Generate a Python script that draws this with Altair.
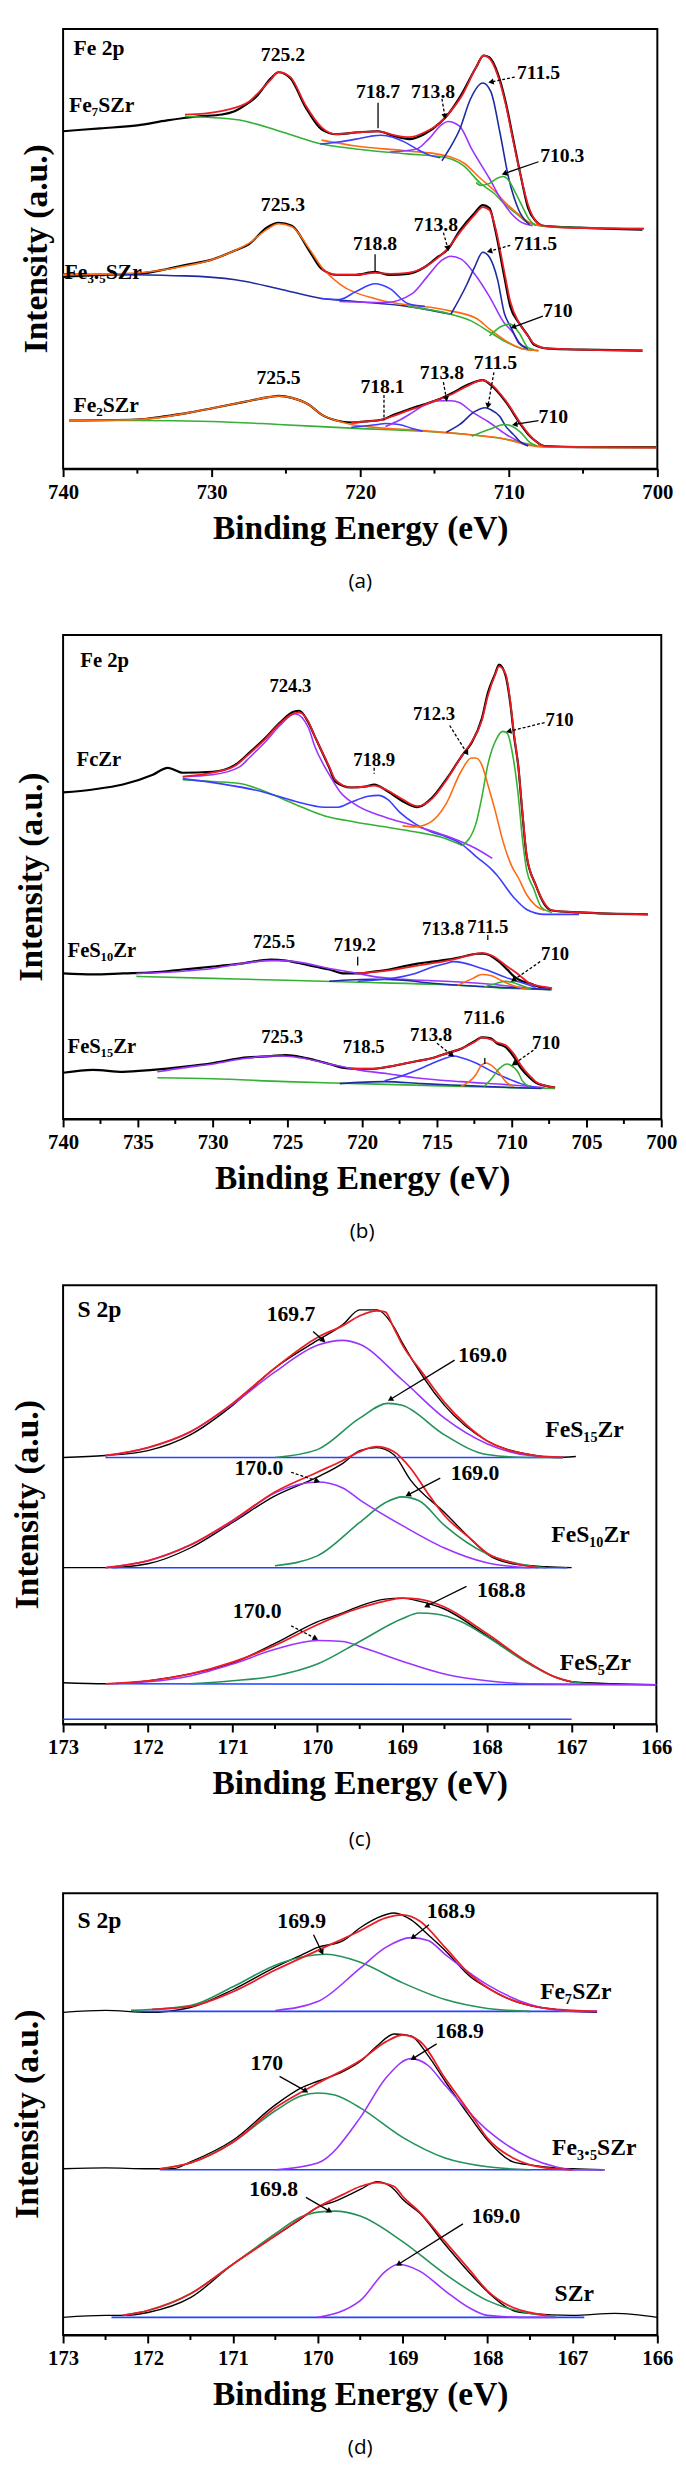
import math
import altair as alt
import pandas as pd

SERIF = "Liberation Serif, DejaVu Serif, serif"
CAPFONT = "Open Sans, Liberation Sans, sans-serif"

RED = "#ec1c24"; BLK = "#000000"; GRN = "#34b134"; DGRN = "#23925a"; ORG = "#ff6a10"
BLU = "#3c3cff"; NAVY = "#1d2aa0"; PUR = "#9b33ff"; SBLU = "#2244ff"

# ---------------- panel (a): Fe 2p ----------------
A_FE7_RAW = [(740,343),(737.5,346),(735,349),(733,354),(731,358),(729.3,360),(728.5,363),(727.5,372),(727,378),(726,397),(725.5,403),(724.7,397),(723.7,368),(722.6,345),(721.6,340),(720.1,342),(718.8,343),(717.7,338),(716.7,335),(715.7,340),(714.6,352),(714.1,360),(713.2,380),(712.2,408),(711.7,420),(711.3,418),(710.75,402),(710.2,372),(709.7,335),(709.2,298),(708.7,265),(708.2,252),(707.7,247),(705.2,245),(701,243)]
A_FE7_FIT = [(731.8,360),(730.5,361),(729.2,364),(727.5,373),(727,380),(726.05,395),(725.5,403),(724.7,398),(723.7,370),(722.6,347),(721.6,340),(720.1,342),(718.8,343),(717.7,339),(716.7,337),(715.65,342),(714.6,352),(714.1,360),(713.2,378),(712.2,408),(711.7,420),(711.3,417),(710.75,400),(710.2,370),(709.7,333),(709.2,298),(708.7,268),(708.2,252),(707.7,247),(706.4,245),(700.9,244)]
A_FE7_BG = [(731.8,358),(728.4,355),(725.2,342),(722.6,330),(720.3,325),(716.8,320),(714.5,317),(713.05,308),(711.9,290),(711.0,280),(710.2,268),(709.3,257),(708.7,250),(707.3,246),(700.9,244)]
A_FE7_ORG = [(722.6,334),(720.3,328),(716.8,323),(714.5,319),(713.05,311),(711.9,295),(711.0,283),(710.2,270),(709.3,258),(708.7,251),(707.8,247)]
A_FE7_P718 = [(722.7,330),(721.5,332),(720.3,335),(719.3,338),(718.6,339),(717.8,337),(717,332),(716.2,325),(715.4,319),(714.6,316)]
A_FE7_P713 = [(718.0,322),(716.2,325),(715.4,335),(714.5,350),(714.1,353),(713.3,348),(712.5,325),(711.3,295),(710.45,272),(709.3,252),(708.4,247)]
A_FE7_P711 = [(714.5,313),(714.0,325),(713.3,345),(712.6,375),(711.75,392),(711.2,383),(710.6,342),(710.0,295),(709.3,262),(708.6,248)]
A_FE7_P710 = [(712.2,291),(711.9,288),(711.3,290),(710.8,295),(710.4,297),(710.0,293),(709.6,282),(709.1,267),(708.7,255),(708.2,247)]

A_FE35_RAW = [(740,195),(737.5,197),(735,198),(733,203),(731.8,207),(730.1,212),(728.4,222),(727.5,228),(726.3,245),(725.5,250),(724.6,247),(723.45,222),(722.6,203),(721.6,197),(720.3,197),(719,200),(718,197),(716.8,198),(715.65,205),(714.8,215),(714.1,223),(713.3,242),(712.3,260),(711.75,268),(711.3,265),(710.9,242),(710.3,195),(709.9,165),(709.3,148),(708.7,135),(708.3,126),(707.3,122),(705,121),(701,120)]
A_FE35_FIT = [(722.6,203),(721.6,197),(720.3,197),(719,199),(718,198),(716.8,199),(715.65,205),(714.8,214),(714.1,224),(713.3,240),(712.3,258),(711.75,266),(711.3,263),(710.9,245),(710.3,200),(709.9,170),(709.3,148),(708.7,135),(708.3,127),(707.3,122),(701,120)]
A_FE35_ORG = [(740,197),(735,199),(731.8,206),(730.1,212),(728.4,222),(727.5,229),(726.3,243),(725.5,249),(724.6,246),(723.45,224),(722.6,205),(721.4,188),(718.8,172),(714.5,162),(712.2,153),(711.3,142),(710.2,130),(709.1,122),(708,120)]
A_FE35_BG1 = [(740,198),(731.8,196),(728.4,192),(725.5,183),(722.6,173),(720.3,170),(716.8,165),(713.9,157)]
A_FE35_BG2 = [(716.8,165),(713.9,157),(712.5,150),(711.3,139),(710.2,129),(709.1,122),(708,120)]
A_FE35_P718 = [(722.6,173),(721.4,172),(720.3,180),(719.0,188),(718.0,183),(716.8,168),(715.65,165)]
A_FE35_P713 = [(721.4,170),(718.3,169),(716.5,178),(715.5,195),(714.5,212),(713.9,216),(713.2,213),(712.3,198),(711.3,175),(710.3,148),(709.7,138),(709.3,127),(708.7,122)]
A_FE35_P711 = [(713.9,157),(712.8,188),(712.3,205),(711.75,220),(711.3,215),(710.75,192),(710.3,158),(709.9,145),(709.3,128),(708.7,122)]
A_FE35_P710 = [(711.3,135),(710.45,145),(709.9,147),(709.3,138),(708.7,123),(708.3,121)]

A_FE2_RAW = [(739.6,49),(735,50),(733.3,53),(731.5,57),(729.8,62),(727.8,68),(726.05,73),(725.5,74),(724.6,72),(723.45,65),(722.6,55),(721.6,49),(720.6,47),(719.7,48),(718.5,50),(717.7,55),(716.8,60),(715.8,65),(714.8,70),(713.8,77),(712.8,85),(711.75,90),(711.2,85),(710.2,68),(709.2,45),(708.7,35),(708.1,27),(707.6,23),(705.3,22),(700.05,22)]
A_FE2_FIT = [(720.6,47),(719.7,48),(718.5,50),(717.7,54),(716.8,59),(715.8,64),(714.8,70),(713.8,76),(712.8,84),(711.75,90),(711.2,86),(710.2,69),(709.2,46),(708.7,36),(708.1,27),(707.6,23),(705.3,22),(700.05,21.5)]
A_FE2_BG = [(739.6,49),(735,49),(730,48),(725.5,45),(720.3,41),(715.65,38),(712.8,35),(710.2,30),(708.7,25),(707.3,22),(700.05,21.5)]
A_FE2_ORG = [(739.6,49),(735,50),(731.5,57),(729.8,62),(727.8,68),(726.05,73),(725.5,74),(724.6,72),(723.45,65),(722.6,55),(721.6,49),(720.6,45),(719,42),(716,39),(713,35),(710.2,30),(708.7,24),(707.6,22),(700.05,21.5)]
A_FE2_P718 = [(720.6,42),(718.8,45),(718.3,46),(717.4,45),(716.5,41),(715.8,38)]
A_FE2_P713 = [(718.3,43),(717.4,49),(716.5,57),(715.65,65),(714.5,69),(713.9,69),(713.3,67),(712.5,58),(711.3,47),(710.2,35),(709.2,27),(708.7,24)]
A_FE2_P711 = [(714.2,37),(713.3,45),(712.3,58),(711.6,62),(711.2,60),(710.6,53),(710.2,43),(709.7,35),(709.2,27),(708.7,23)]
A_FE2_P710 = [(712.5,33),(711.3,40),(710.3,45),(709.9,44),(709.2,37),(708.6,27),(708.1,23)]

A_TEXT_PEAK = [("725.2",725.2,420),("718.7",718.8,383),("713.8",715.1,383),("711.5",708.0,402),("710.3",706.4,318),
               ("725.3",725.2,268),("718.8",719.0,228),("713.8",714.9,248),("711.5",708.2,228),("710",706.7,160),
               ("725.5",725.5,92),("718.1",718.5,83),("713.8",714.5,97),("711.5",710.9,107),("710",707.0,52)]
A_TEXT_SAMPLE = [("Fe 2p",739.3,428),("Fe\u2087SZr",739.6,370),("Fe\u2083.\u2085SZr",739.9,200),("Fe\u2082SZr",739.3,65)]
# (E1, v1, E2, v2, dashed, arrowhead)
A_ARROWS = [(718.8,372,718.8,346,0,0),(714.5,376,714.3,358,1,1),(709.6,398,711.2,393,1,1),(708.0,312,710.3,300,0,1),
            (719.0,218,719.0,201,0,0),(714.4,240,714.1,224,1,1),(709.9,227,711.3,221,1,1),(707.7,155,709.7,144,0,1),
            (718.4,75,718.4,49,1,0),(714.4,88,714.2,71,1,1),(711.0,98,711.4,64,1,1),(708.0,49,709.6,45,0,1)]

# ---------------- panel (b): Fe 2p ----------------
B_FC_RAW = [(740,332),(738,335),(736,340),(734,350),(733,357),(732,352),(730,353),(728.5,360),(727.5,373),(726.5,387),(725.5,403),(724.6,414),(724.2,415),(723.6,403),(723.2,390),(722.2,357),(721.8,343),(720.75,337),(719.75,338),(719.2,340),(718.3,333),(717.3,323),(716.3,317),(715.3,327),(714.3,347),(713.3,370),(712.7,382),(712,407),(711.6,433),(711.1,453),(710.85,462),(710.4,450),(710.1,423),(709.85,390),(709.55,357),(709.3,313),(709,267),(708.4,238),(707.8,218),(707.3,212),(705.5,210),(700.9,208)]
B_FC_FIT = [(732,348),(730,352),(728.5,359),(727.5,372),(726.5,386),(725.5,402),(724.6,412),(724.2,413),(723.6,404),(723.2,390),(722.2,358),(721.8,345),(720.75,337),(719.75,338),(719.2,339),(718.3,334),(717.3,325),(716.3,318),(715.3,326),(714.3,346),(713.3,370),(712.7,383),(712,405),(711.6,430),(711.1,452),(710.85,460),(710.4,452),(710.1,425),(709.85,392),(709.55,357),(709.3,315),(709,268),(708.4,238),(707.8,219),(707.3,212),(705.5,210),(700.9,208)]
B_FC_BG = [(732,345),(730,343),(728.2,341),(726.5,333),(724.5,320),(722.5,308),(720.5,302),(718.5,297),(716.5,292),(714.4,285),(713.3,278)]
B_FC_P719 = [(732,346),(726.5,332),(724.5,323),(722.5,317),(721.6,317),(720.75,322),(719.6,328),(718.9,329),(718.3,325),(717.5,312),(716.45,300),(715.4,292),(714.4,287),(713.4,280),(712.4,267),(711.3,253),(711,248),(709.85,225),(709,213),(707.8,208),(705.5,208)]
B_FC_P724 = [(732,348),(730,350),(728.2,358),(727.5,368),(726.5,383),(725.5,400),(724.5,412),(723.6,398),(723.2,380),(722.2,350),(721.5,333),(720.5,320),(718.5,307),(716.45,298),(714.4,288),(712.4,275),(711.3,265)]
B_FC_P712 = [(717.3,298),(716.45,297),(715.4,302),(714.4,320),(713.4,353),(712.7,367),(712.4,367),(712.0,360),(711.6,340),(711.1,313),(710.6,283),(710.0,257),(709.55,245),(709.0,228),(708.4,217),(707.8,212)]
B_FC_P710 = [(713.3,278),(712.4,300),(712.0,327),(711.6,360),(711.0,387),(710.6,394),(710.3,392),(709.9,367),(709.55,327),(709.3,287),(709.0,253),(708.55,235),(708.0,215),(707.3,210)]

B_S10_RAW = [(740,148),(738,147),(736,148),(734,149),(732,152),(729.95,155),(728.1,158),(726.1,162),(725.1,161),(724.05,158),(723.2,155),(722.2,152),(721.2,148),(720.3,148),(719.2,150),(718.2,152),(717.3,155),(716.3,158),(715.3,160),(714.3,162),(713.3,165),(712.3,168),(711.85,168),(711.3,165),(710.85,160),(710.3,152),(709.85,145),(709.3,140),(708.8,138),(708.3,135),(707.4,132)]
B_S10_FIT = [(720.3,148),(718.2,151),(716.3,156),(714.3,161),(712.9,166),(712,169),(711.3,166),(710.3,155),(709.55,147),(708.8,138),(707.7,134),(707.3,133)]
B_S10_BG = [(735.1,145),(730,143),(725.1,141),(720.2,139),(715.3,137),(712.4,135),(710.4,133),(708.4,132),(707.3,131.5)]
B_S10_P725 = [(735.1,148),(732.2,150),(730,153),(728.1,158),(726.1,161),(725.5,161),(724.05,159),(722.2,153),(720.3,148),(719.3,145),(717.3,142),(714.4,140),(711.4,137),(709.4,134),(707.5,132)]
B_S10_P713 = [(720.3,140),(718.5,142),(716.45,148),(715.4,154),(714.4,158),(713.9,160),(713.3,159),(712.4,155),(711.4,150),(710.4,144),(709.4,139),(708.4,134)]
B_S10_P719 = [(722.2,140),(719.2,142),(717.3,141),(715.3,138),(712.4,135),(709.4,133),(707.4,131.5)]
B_S10_P711 = [(713.6,136),(712.6,143),(712,147),(711.4,146),(710.85,142),(710.3,138),(709.55,134),(708.8,132)]
B_S10_P710 = [(711.85,134),(711,138),(710.4,140),(710,139),(709.4,136),(708.7,132)]

B_S15_RAW = [(740,47),(738,50),(736,48),(734,50),(732,53),(729.95,57),(728.1,62),(726.1,64),(725.1,65),(724.05,63),(723.2,60),(722.2,56),(721.2,52),(720.3,51),(719.3,51),(718.3,53),(717.3,56),(716.3,59),(715.3,62),(714.3,67),(713.3,72),(712.4,80),(712.0,83),(711.4,82),(711.0,77),(710.4,73),(709.85,63),(709.4,52),(708.8,42),(708.4,37),(707.8,34),(707.1,32)]
B_S15_FIT = [(720.75,51),(719.3,51),(718.3,53),(717.3,56),(716.3,59),(715.3,62),(714.3,67),(713.3,72),(712.4,79),(712,83),(711.4,81),(711,78),(710.4,75),(709.85,66),(709.4,55),(708.8,44),(708.4,38),(707.8,34),(707.1,32)]
B_S15_BG = [(733.7,42),(730,41),(725.1,38),(720.2,36),(715.3,34),(710.4,32),(707.1,31)]
B_S15_P725 = [(733.7,48),(732,52),(730,56),(728.1,61),(726.1,64),(725.35,64),(724.05,62),(722.2,56),(720.3,50),(718.3,46),(716.45,42),(713.4,38),(710.4,35),(707.8,32)]
B_S15_P713 = [(718.5,39),(717.5,43),(716.45,49),(715.4,56),(714.4,62),(713.9,64),(713.3,62),(712.4,57),(711.4,49),(710.4,42),(709.4,36),(708.4,32)]
B_S15_P718 = [(721.5,36),(718.5,38),(716,36),(713,34),(710,32),(708,31)]
B_S15_P711 = [(713.4,33),(712.4,45),(712,55),(711.7,57),(711.4,55),(710.85,47),(710.4,38),(709.85,33)]
B_S15_P710 = [(711.85,33),(711.3,42),(710.85,51),(710.3,56),(710.1,55),(709.55,47),(709.3,39),(708.8,33)]

B_TEXT_PEAK = [("724.3",724.8,440),("718.9",719.2,365),("712.3",715.2,412),("710",706.8,405),
               ("725.5",725.9,180),("719.2",720.5,177),("713.8",714.6,193),("711.5",711.6,195),("710",707.1,168),
               ("725.3",725.35,83),("718.5",719.9,73),("713.8",715.4,85),("711.6",711.85,103),("710",707.7,77)]
B_TEXT_SAMPLE = [("Fe 2p",738.85,465),("FcZr",739.1,365),("FeS\u2081\u2080Zr",739.7,171),("FeS\u2081\u2085Zr",739.7,73)]
B_ARROWS = [(719.2,357,719.2,351,1,0),(714.15,400,713.0,372,1,1),(707.8,403,710.2,394,1,1),
            (720.3,165,720.3,156,0,0),(711.6,187,711.6,182,0,0),(708.1,160,709.9,141,1,1),
            (715.0,77,714.0,65,1,1),(711.8,62,711.8,56,0,0),(708.55,70,709.85,56,1,1)]

# ---------------- panel (c): S 2p ----------------
C_S15_RAW = [(173,271),(172.5,273),(172,278),(171.5,294),(171,324),(170.5,362),(170,390),(169.7,406),(169.5,421),(169.3,421),(169.1,404),(169,388),(168.5,324),(168,288),(167.5,274),(167.2,271),(166.95,272)]
C_S15_FIT = [(172.5,273),(172,281),(171.5,297),(171,326),(170.5,362),(170,393),(169.7,405),(169.5,415),(169.3,420),(169.2,419),(169.1,403),(169,386),(168.76,357),(168.5,327),(168.24,304),(168,288),(167.76,279),(167.5,274),(167.1,271)]
C_S15_P169_7 = [(172.5,273),(172,281),(171.5,297),(171,325),(170.5,358),(170,385),(169.7,390),(169.5,386),(169,350),(168.5,311),(168,285),(167.5,273),(167.1,271)]
C_S15_P169_0 = [(170.5,271),(170,279),(169.5,311),(169.17,326),(169,324),(168.5,294),(168,274),(167.5,271),(167.1,271)]
C_S15_BASE = [(172.5,271),(167.1,271)]

C_S10_RAW = [(173,159),(172.5,159),(172,163),(171.5,179),(171,205),(170.5,232),(170,251),(169.7,265),(169.5,278),(169.3,281),(169.1,274),(168.9,248),(168.5,215),(168.2,189),(168,173),(167.7,163),(167.3,160),(167,159)]
C_S10_FIT = [(172.5,159),(172,166),(171.5,182),(171,207),(170.5,236),(170,256),(169.7,268),(169.5,277),(169.3,282),(169.1,277),(168.9,260),(168.7,235),(168.5,212),(168.2,189),(168,174),(167.7,164),(167.4,159)]
C_S10_P170 = [(172.5,159),(172,166),(171.5,182),(171,206),(170.5,235),(170,246),(169.7,240),(169.5,228),(169,202),(168.5,179),(168,164),(167.5,159)]
C_S10_P169 = [(170.5,161),(170,171),(169.5,205),(169.2,225),(169,231),(168.8,227),(168.5,202),(168,173),(167.5,161),(167.3,159)]
C_S10_BASE = [(172.43,159),(167.05,159)]

C_S5_RAW = [(173,42),(172.5,41),(172,44),(171.5,51),(171,62),(170.5,82),(170,104),(169.7,113),(169.5,120),(169.2,127),(169,128),(168.8,125),(168.5,117),(168,90),(167.5,62),(167.2,48),(167,43),(166.5,41),(166,40)]
C_S5_FIT = [(172.5,41),(172,44),(171.5,51),(171,63),(170.5,80),(170,101),(169.7,112),(169.5,118),(169.2,125),(169,128),(168.8,127),(168.5,119),(168,92),(167.5,62),(167.2,48),(167,43)]
C_S5_P170 = [(172.43,41),(172,43),(171.5,49),(171,61),(170.5,76),(170,85),(169.7,84),(169.5,79),(169,64),(168.5,51),(168,44),(167.5,41),(166,40)]
C_S5_P168 = [(171.5,41),(171,44),(170.5,49),(170,61),(169.5,84),(169,107),(168.8,113),(168.6,112),(168.3,104),(168,89),(167.5,61),(167.2,48),(167,43),(166.8,41)]
C_S5_BASE = [(172.38,41),(166,40)]
C_BOTTOM = [(173,5),(167,5)]

C_TEXT_PEAK = [("169.7",170.31,417),("169.0",168.05,375),("170.0",170.69,260),("169.0",168.14,255),("170.0",170.71,115),("168.8",167.83,136)]
C_TEXT_SAMPLE = [("S 2p",172.83,421),("FeS\u2081\u2085Zr",167.31,299),("FeS\u2081\u2080Zr",167.24,192),("FeS\u2085Zr",167.14,62)]
C_ARROWS = [(170.05,399,169.93,390,0,1),(168.38,370,169.14,330,0,1),
            (170.31,256,170.0,247,1,1),(168.55,250,168.93,233,0,1),
            (170.31,100,170.02,87,1,1),(168.24,140,168.71,120,0,1)]

# ---------------- panel (d): S 2p ----------------
D_F7_RAW = [(173,328),(172.5,330),(172,328),(171.5,333),(171,351),(170.5,374),(170.2,386),(170,394),(169.7,401),(169.5,414),(169.3,424),(169.1,429),(168.9,422),(168.7,407),(168.5,391),(168.2,364),(168,353),(167.7,340),(167.5,335),(167.2,331),(167,329),(166.71,328)]
D_F7_FIT = [(171.95,331),(171.5,334),(171,349),(170.5,371),(170,391),(169.5,411),(169.2,424),(169,427),(168.8,421),(168.5,394),(168.2,366),(168,353),(167.5,335),(167,330),(166.71,329)]
D_F7_P169_9 = [(172.2,330),(171.5,335),(171,354),(170.5,376),(170.2,384),(169.9,387),(169.5,379),(169,358),(168.5,341),(168,332),(167.5,329)]
D_F7_P168_9 = [(170.5,330),(170,339),(169.5,373),(169.2,394),(168.9,404),(168.7,401),(168.5,387),(168,356),(167.5,336),(167,329),(166.71,329)]
D_F7_BASE = [(172.14,329),(166.71,329)]

D_F35_RAW = [(173,169),(172.5,170),(172,169),(171.71,169),(171.5,176),(171,198),(170.5,234),(170.2,251),(170,258),(169.7,268),(169.5,278),(169.3,294),(169.1,306),(168.9,304),(168.7,284),(168.5,258),(168.2,221),(168,198),(167.7,176),(167.5,173),(167.2,170),(167,169),(166.64,168)]
D_F35_FIT = [(171.86,169),(171.5,175),(171,196),(170.5,231),(170,256),(169.5,279),(169.2,298),(169,305),(168.8,299),(168.5,261),(168.2,225),(168,200),(167.7,180),(167.5,173),(167.2,169),(167,168)]
D_F35_P170 = [(171.86,169),(171.5,175),(171,196),(170.5,228),(170.2,243),(170,246),(169.8,244),(169.5,231),(169,201),(168.5,180),(168,171),(167.5,168)]
D_F35_P168_9 = [(170.5,168),(170,175),(169.5,221),(169.2,261),(168.9,281),(168.7,274),(168.5,254),(168,208),(167.5,180),(167.2,171),(167,168),(166.62,168)]
D_F35_BASE = [(171.86,168),(166.62,168)]

D_SZ_RAW = [(173,18),(172.5,20),(172.3,20),(172,23),(171.5,38),(171,72),(170.5,101),(170.2,118),(170,130),(169.8,136),(169.5,148),(169.3,156),(169.1,148),(169,138),(168.8,124),(168.5,92),(168.2,62),(168,44),(167.7,25),(167.5,22),(167,20),(166.5,22),(166,18)]
D_SZ_FIT = [(172.3,20),(172,25),(171.5,42),(171,72),(170.5,101),(170,130),(169.7,143),(169.5,151),(169.3,155),(169.1,151),(169,141),(168.8,125),(168.5,95),(168.2,65),(168,45),(167.7,28),(167.5,23),(167.3,20)]
D_SZ_P169_8 = [(172.3,20),(172,25),(171.5,42),(171,72),(170.5,103),(170.2,120),(170,125),(169.8,126),(169.5,121),(169,95),(168.5,62),(168,35),(167.5,22),(167.2,19)]
D_SZ_P169_0 = [(170,18),(169.5,35),(169.2,65),(169.05,72),(168.8,65),(168.5,45),(168.2,27),(168,20),(167.5,18),(167.2,18)]
D_SZ_BASE = [(172.43,18),(166.86,18)]

D_TEXT_PEAK = [("169.9",170.19,421),("168.9",168.43,431),("170",170.6,276),("168.9",168.33,309),("169.8",170.52,148),("169.0",167.9,121)]
D_TEXT_SAMPLE = [("S 2p",172.83,421),("Fe\u2087SZr",167.38,349),("Fe\u2083.\u2085SZr",167.24,190),("SZr",167.21,42)]
D_ARROWS = [(170.05,407,169.95,389,0,1),(168.69,417,168.88,404,0,1),
            (170.45,263,170.14,248,0,1),(168.6,296,168.88,281,0,1),
            (170.14,140,169.86,126,0,1),(168.29,113,169.05,72,0,1)]

# -------- curve definitions: (points, color, kind) --------
A_CURVES = [
    (A_FE7_RAW, BLK, "raw"), (A_FE7_BG, GRN, "comp"), (A_FE7_ORG, ORG, "comp"), (A_FE7_P718, BLU, "comp"),
    (A_FE7_P713, PUR, "comp"), (A_FE7_P711, NAVY, "comp"), (A_FE7_P710, GRN, "comp"), (A_FE7_FIT, RED, "fit"),
    (A_FE35_RAW, BLK, "raw"), (A_FE35_BG1, NAVY, "comp"), (A_FE35_BG2, GRN, "comp"), (A_FE35_ORG, ORG, "comp"),
    (A_FE35_P718, BLU, "comp"), (A_FE35_P713, PUR, "comp"), (A_FE35_P711, NAVY, "comp"), (A_FE35_P710, GRN, "comp"),
    (A_FE35_FIT, RED, "fit"),
    (A_FE2_RAW, BLK, "raw"), (A_FE2_BG, GRN, "comp"), (A_FE2_ORG, ORG, "comp"), (A_FE2_P718, BLU, "comp"),
    (A_FE2_P713, PUR, "comp"), (A_FE2_P711, NAVY, "comp"), (A_FE2_P710, GRN, "comp"), (A_FE2_FIT, RED, "fit"),
]
B_CURVES = [
    (B_FC_RAW, BLK, "raw"), (B_FC_BG, GRN, "comp"), (B_FC_P719, BLU, "comp"), (B_FC_P724, PUR, "comp"),
    (B_FC_P712, ORG, "comp"), (B_FC_P710, GRN, "comp"), (B_FC_FIT, RED, "fit"),
    (B_S10_RAW, BLK, "raw"), (B_S10_BG, GRN, "comp"), (B_S10_P725, PUR, "comp"), (B_S10_P719, NAVY, "comp"),
    (B_S10_P713, BLU, "comp"), (B_S10_P711, ORG, "comp"), (B_S10_P710, GRN, "comp"), (B_S10_FIT, RED, "fit"),
    (B_S15_RAW, BLK, "raw"), (B_S15_BG, GRN, "comp"), (B_S15_P725, PUR, "comp"), (B_S15_P718, NAVY, "comp"),
    (B_S15_P713, BLU, "comp"), (B_S15_P711, ORG, "comp"), (B_S15_P710, GRN, "comp"), (B_S15_FIT, RED, "fit"),
]
C_CURVES = [
    (C_S15_RAW, BLK, "raw"), (C_S15_BASE, SBLU, "comp"), (C_S15_P169_7, PUR, "comp"), (C_S15_P169_0, DGRN, "comp"), (C_S15_FIT, RED, "fit"),
    (C_S10_RAW, BLK, "raw"), (C_S10_BASE, SBLU, "comp"), (C_S10_P170, PUR, "comp"), (C_S10_P169, DGRN, "comp"), (C_S10_FIT, RED, "fit"),
    (C_S5_RAW, BLK, "raw"), (C_S5_BASE, SBLU, "comp"), (C_S5_P170, PUR, "comp"), (C_S5_P168, DGRN, "comp"), (C_S5_FIT, RED, "fit"),
    (C_BOTTOM, SBLU, "comp"),
]
D_CURVES = [
    (D_F7_RAW, BLK, "raw"), (D_F7_BASE, SBLU, "comp"), (D_F7_P169_9, DGRN, "comp"), (D_F7_P168_9, PUR, "comp"), (D_F7_FIT, RED, "fit"),
    (D_F35_RAW, BLK, "raw"), (D_F35_BASE, SBLU, "comp"), (D_F35_P170, DGRN, "comp"), (D_F35_P168_9, PUR, "comp"), (D_F35_FIT, RED, "fit"),
    (D_SZ_RAW, BLK, "raw"), (D_SZ_BASE, SBLU, "comp"), (D_SZ_P169_8, DGRN, "comp"), (D_SZ_P169_0, PUR, "comp"), (D_SZ_FIT, RED, "fit"),
]

PANELS = [
    dict(curves=A_CURVES, peaks=A_TEXT_PEAK, samples=A_TEXT_SAMPLE, arrows=A_ARROWS, cap="(a)",
         dom=[740, 700], major=[740, 730, 720, 710, 700], minor=[735, 725, 715, 705],
         W=604, H=447, left=53, raw_w=2.2, peak_fs=20, samp_fs=22, cap_off=115),
    dict(curves=B_CURVES, peaks=B_TEXT_PEAK, samples=B_TEXT_SAMPLE, arrows=B_ARROWS, cap="(b)",
         dom=[740, 700], major=[740, 735, 730, 725, 720, 715, 710, 705, 700],
         minor=[737.5, 732.5, 727.5, 722.5, 717.5, 712.5, 707.5, 702.5],
         W=608, H=492, left=58, raw_w=2.2, peak_fs=19, samp_fs=21, cap_off=115),
    dict(curves=C_CURVES, peaks=C_TEXT_PEAK, samples=C_TEXT_SAMPLE, arrows=C_ARROWS, cap="(c)",
         dom=[173, 166], major=[173, 172, 171, 170, 169, 168, 167, 166],
         minor=[172.5, 171.5, 170.5, 169.5, 168.5, 167.5, 166.5],
         W=603, H=446, left=63, raw_w=1.4, peak_fs=22, samp_fs=24, cap_off=118),
    dict(curves=D_CURVES, peaks=D_TEXT_PEAK, samples=D_TEXT_SAMPLE, arrows=D_ARROWS, cap="(d)",
         dom=[173, 166], major=[173, 172, 171, 170, 169, 168, 167, 166],
         minor=[172.5, 171.5, 170.5, 169.5, 168.5, 167.5, 166.5],
         W=604, H=449, left=63, raw_w=1.4, peak_fs=22, samp_fs=24, cap_off=115),
]

YTITLE_FS = 34
YTITLE_CENTER = 27  # page x of the rotated y title centre


def build_panel(p):
    W, H, dom = p["W"], p["H"], p["dom"]
    span = dom[0] - dom[1]
    xscale = alt.Scale(domain=dom, nice=False, zero=False)
    yscale = alt.Scale(domain=[0, H], nice=False, zero=False)
    xaxis = alt.Axis(values=p["major"], format="d", labelFlush=False, labelOverlap=False,
                     tickSize=8, labelPadding=5, titlePadding=10)

    def X(f="E"):
        return alt.X(f"{f}:Q", scale=xscale, axis=xaxis, title="Binding Energy (eV)")

    def Y(f="v"):
        return alt.Y(f"{f}:Q", scale=yscale, axis=None)

    rows = []
    for i, (pts, col, kind) in enumerate(p["curves"]):
        for e, v in pts:
            rows.append(dict(E=e, v=v, sid=i, color=col, kind=kind))
    df = pd.DataFrame(rows)

    layers = []
    for kind, sw in (("raw", p["raw_w"]), ("comp", 1.6), ("fit", 1.8)):
        layers.append(
            alt.Chart(df[df.kind == kind]).mark_line(strokeWidth=sw, interpolate="monotone").encode(
                x=X(), y=Y(), detail="sid:N", color=alt.Color("color:N", scale=None)))

    arr = pd.DataFrame([dict(E=a[0], v=a[1], E2=a[2], v2=a[3], dash=a[4], head=a[5]) for a in p["arrows"]])
    for dashed in (0, 1):
        sub = arr[arr.dash == dashed]
        if len(sub):
            mk = dict(color="black", strokeWidth=1.3)
            if dashed:
                mk["strokeDash"] = [3, 2]
            layers.append(alt.Chart(sub).mark_rule(**mk).encode(
                x=X(), y=Y(), x2=alt.X2("E2:Q"), y2=alt.Y2("v2:Q")))
    heads = arr[arr["head"] == 1].copy()
    if len(heads):
        sx = W / span

        def ang(r):
            dx = -(r.E2 - r.E) * sx
            dy = -(r.v2 - r.v)
            return (math.degrees(math.atan2(dx, -dy)) + 360) % 360
        heads["ang"] = heads.apply(ang, axis=1)
        layers.append(alt.Chart(heads).mark_point(shape="triangle-up", filled=True, color="black",
                                                  opacity=1, size=40).encode(
            x=X("E2"), y=Y("v2"), angle=alt.Angle("ang:Q", scale=None)))

    pk = pd.DataFrame([dict(t=t, E=e, v=v) for t, e, v in p["peaks"]])
    layers.append(alt.Chart(pk).mark_text(font=SERIF, fontWeight="bold", fontSize=p["peak_fs"],
                                          color="black", align="center", baseline="middle").encode(
        x=X(), y=Y(), text="t:N"))
    sm = pd.DataFrame([dict(t=t, E=e, v=v) for t, e, v in p["samples"]])
    layers.append(alt.Chart(sm).mark_text(font=SERIF, fontWeight="bold", fontSize=p["samp_fs"],
                                          color="black", align="left", baseline="middle").encode(
        x=X(), y=Y(), text="t:N"))

    mn = pd.DataFrame(dict(E=p["minor"]))
    layers.append(alt.Chart(mn).mark_rule(color="black", strokeWidth=2).encode(
        x=X(), y=alt.value(H), y2=alt.value(H + 5)))

    # rotated y-axis title, placed relative to the plot's left edge
    yt = pd.DataFrame(dict(t=["Intensity (a.u.)"]))
    layers.append(alt.Chart(yt).mark_text(font=SERIF, fontWeight="bold", fontSize=YTITLE_FS,
                                          color="black", align="center", baseline="middle",
                                          angle=270).encode(
        x=alt.value(YTITLE_CENTER - p["left"]), y=alt.value(H / 2), text="t:N"))

    cap = pd.DataFrame(dict(t=[p["cap"]]))
    layers.append(alt.Chart(cap).mark_text(font=CAPFONT, fontSize=21, color="black",
                                           align="center", baseline="middle").encode(
        x=alt.value(W / 2), y=alt.value(H + p["cap_off"]), text="t:N"))

    return alt.layer(*layers).properties(width=W, height=H)


charts = [build_panel(p) for p in PANELS]

chart = alt.concat(*charts, columns=1, spacing=42, align="none").properties(
    padding={"left": YTITLE_CENTER - 8 - YTITLE_FS // 2, "top": 0, "right": 0, "bottom": 0}
).configure_view(
    stroke="black", strokeWidth=2
).configure_axis(
    grid=False, labelFont=SERIF, labelFontWeight="bold", labelFontSize=21, labelColor="black",
    domainColor="black", domainWidth=2, tickColor="black", tickWidth=2,
    titleFont=SERIF, titleFontSize=34, titleFontWeight="bold", titleColor="black"
)

chart.save("out.html", embed_options={"renderer": "svg", "actions": False})
